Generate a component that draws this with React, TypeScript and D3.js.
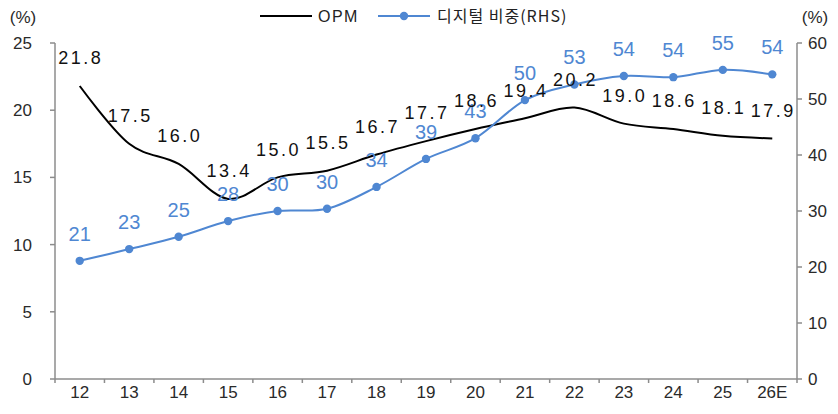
import React from 'react';
import * as d3 from 'd3';

const categories = ['12', '13', '14', '15', '16', '17', '18', '19', '20', '21', '22', '23', '24', '25', '26E'];
const opm = [21.8, 17.5, 16.0, 13.4, 15.0, 15.5, 16.7, 17.7, 18.6, 19.4, 20.2, 19.0, 18.6, 18.1, 17.9];
const digitalShare = [21.1, 23.2, 25.4, 28.2, 30.0, 30.4, 34.3, 39.3, 43.0, 49.8, 52.6, 54.1, 53.9, 55.2, 54.4];
const leftTicks = [0, 5, 10, 15, 20, 25];
const rightTicks = [0, 10, 20, 30, 40, 50, 60];

const width = 838;
const height = 414;
const left = 55;
const right = 797;
const top = 43;
const bottom = 379;

const axisColor = '#8c8c8c';
const blue = '#4f87d2';
const numFont = '"Liberation Sans", Arial, sans-serif';
const krFont = '"Noto Sans CJK KR", "Liberation Sans", sans-serif';

const App = () => {
  const x = d3.scaleBand<string>().domain(categories).range([left, right]);
  const cx = (c: string) => (x(c) as number) + x.bandwidth() / 2;
  const yL = d3.scaleLinear().domain([0, 25]).range([bottom, top]);
  const yR = d3.scaleLinear().domain([0, 60]).range([bottom, top]);

  const opmLine = d3.line<number>()
    .x((d, i) => cx(categories[i]))
    .y(d => yL(d))
    .curve(d3.curveCardinal.tension(0));
  const digLine = d3.line<number>()
    .x((d, i) => cx(categories[i]))
    .y(d => yR(d))
    .curve(d3.curveCardinal.tension(0));

  const fmt1 = d3.format('.1f');
  const fmt0 = d3.format('.0f');

  return (
    <div style={{ position: 'absolute', left: 0, top: 0 }}>
      <svg width={width} height={height} style={{ display: 'block', background: '#fff' }}>
        {/* axes */}
        <g stroke={axisColor} strokeWidth={1.5} fill="none">
          <line x1={left} x2={left} y1={top} y2={bottom} />
          <line x1={right} x2={right} y1={top} y2={bottom} />
          <line x1={left} x2={right} y1={bottom} y2={bottom} />
          {leftTicks.map(t => <line key={'l' + t} x1={left - 5} x2={left} y1={yL(t)} y2={yL(t)} />)}
          {rightTicks.map(t => <line key={'r' + t} x1={right} x2={right + 5} y1={yR(t)} y2={yR(t)} />)}
          {categories.map(c => <line key={'b' + c} x1={x(c)} x2={x(c)} y1={bottom} y2={bottom + 4} />)}
          <line x1={right} x2={right} y1={bottom} y2={bottom + 4} />
        </g>

        <g fontFamily={numFont} fontSize={17} fill="#2a2a2a">
          {leftTicks.map(t => (
            <text key={'lt' + t} x={32} y={yL(t)} dy="0.35em" textAnchor="end">{t}</text>
          ))}
          {rightTicks.map(t => (
            <text key={'rt' + t} x={808} y={yR(t)} dy="0.35em" textAnchor="start">{t}</text>
          ))}
          {categories.map(c => (
            <text key={'xt' + c} x={cx(c)} y={398} textAnchor="middle">{c}</text>
          ))}
          <text x={23} y={23} textAnchor="middle">(%)</text>
          <text x={815} y={23} textAnchor="middle">(%)</text>
        </g>

        {/* lines */}
        <path d={opmLine(opm) || ''} fill="none" stroke="#000" strokeWidth={2} />
        <path d={digLine(digitalShare) || ''} fill="none" stroke={blue} strokeWidth={2} />
        {digitalShare.map((d, i) => (
          <circle key={'p' + i} cx={cx(categories[i])} cy={yR(d)} r={4.2} fill={blue} />
        ))}

        {/* data labels */}
        <g fontFamily={numFont} fontSize={20} fill={blue} textAnchor="middle">
          {digitalShare.map((d, i) => (
            <text key={'dl' + i} x={cx(categories[i])} y={yR(d) - 27} dy="0.35em">{fmt0(d)}</text>
          ))}
        </g>
        <g fontFamily={numFont} fontSize={18} fill="#111" textAnchor="middle" letterSpacing={2.5}>
          {opm.map((d, i) => (
            <text key={'ol' + i} x={cx(categories[i]) + 1} y={yL(d) - 28} dy="0.35em">{fmt1(d)}</text>
          ))}
        </g>

        {/* legend */}
        <g>
          <line x1={260} x2={312} y1={16} y2={16} stroke="#000" strokeWidth={2} />
          <text x={318} y={16} dy="0.35em" fontFamily={numFont} fontSize={16} fill="#222" letterSpacing={1.5}>OPM</text>
          <line x1={378} x2={430} y1={16} y2={16} stroke={blue} strokeWidth={2} />
          <circle cx={404} cy={16} r={4.2} fill={blue} />
          <text x={437} y={16} dy="0.35em" fontFamily={krFont} fontSize={16} fill="#222" letterSpacing={1}>디지털 비중(RHS)</text>
        </g>
      </svg>
    </div>
  );
};

export default App;
